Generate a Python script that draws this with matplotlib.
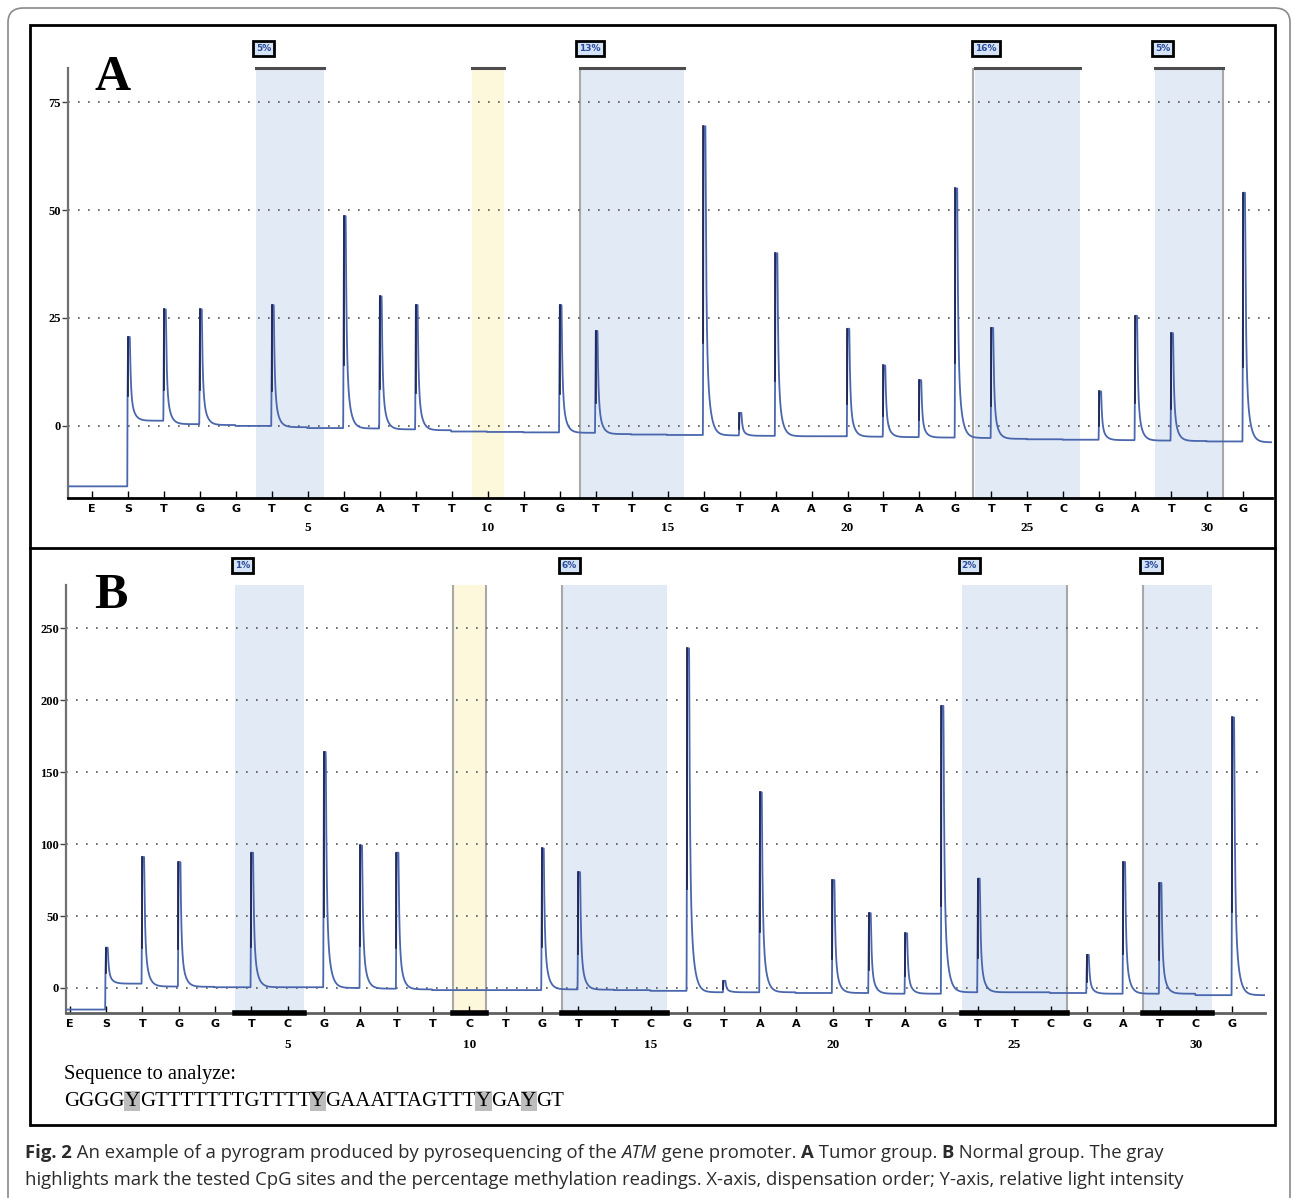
import numpy as np
import matplotlib
matplotlib.use("Agg")
import matplotlib.pyplot as plt
import matplotlib.font_manager as fm
from matplotlib.patches import FancyBboxPatch, Rectangle
from matplotlib.transforms import blended_transform_factory

# dispensation order (E, S, then positions 1..31)
DISP = list("ES" + "TGGTCGATTCTGTTCGTAAGTAGTTCGATCG")
DISP_POS = list(range(-1, 32))

# peak tops per dispensation position 0..31 (nan = no incorporation)
nan = np.nan
A_PEAK = [20.6, 27, 27, nan, 28, nan, 48.6, 30, 28, nan, nan, nan, 28, 22, nan, nan,
          69.4, 3, 40, nan, 22.5, 14, 10.6, 55, 22.7, nan, nan, 8, 25.5, 21.5, nan, 54]
A_BASE = [1.2, 0.4, 0.2, 0.0, -0.3, -0.5, -0.6, -0.8, -1.0, -1.3, -1.4, -1.5, -1.6, -1.9, -2.0, -2.1,
          -2.2, -2.3, -2.4, -2.4, -2.5, -2.6, -2.7, -2.8, -3.0, -3.1, -3.2, -3.3, -3.4, -3.5, -3.6, -3.8]
A_PRE = -14.0
B_PEAK = [28, 91, 87.5, nan, 94, nan, 164, 99, 94, nan, nan, nan, 97, 80.5, nan, nan,
          236, 5, 136, nan, 75, 52, 38, 196, 76, nan, nan, 23, 87.5, 73, nan, 188]
B_BASE = [3.0, 1.0, 0.8, 0.5, 0.5, 0.5, 0.0, -0.5, -1.0, -1.5, -1.5, -1.5, -1.0, -1.2, -1.5, -2.0,
          -3.0, -3.0, -3.0, -3.5, -3.5, -4.0, -4.0, -3.0, -3.0, -3.0, -3.5, -4.0, -4.0, -4.0, -5.0, -5.0]
B_PRE = -15.0

# CpG sites tested (positions) and the bisulfite control (yellow)
CPG_SITES = [[4, 5], [13, 14, 15], [24, 25, 26], [29, 30]]
CTRL_SITE = [10]
A_PCT = ["5%", "13%", "16%", "5%"]
B_PCT = ["1%", "6%", "2%", "3%"]

SEQ = "GGGGYGTTTTTTTGTTTTYGAAATTAGTTTYGAYGT"

W, H = 1292, 1198
BLUE, DARK = "#4a66ad", "#1b1f4a"
SPAN_BLUE, SPAN_YEL = "#e1eaf5", "#fdf7dc"
SERIF = "Liberation Serif"
names = {f.name for f in fm.fontManager.ttflist}
CAPF = "Liberation Sans Narrow" if "Liberation Sans Narrow" in names else "Open Sans"


def fx(px):
    return px / W


def fy(py):
    return 1 - py / H


def kernel(t):
    k = 0.65 * np.exp(-(t - 0.05) / 0.025) + 0.35 * np.exp(-(t - 0.05) / 0.1)
    k = np.where(t < 0.05, 1.0, k)
    k = np.where(t < 0, np.clip((t + 0.02) / 0.02, 0, 1), k)
    return k


def draw_panel(ax, peaks, base, pre, xlim, ylim, yticks, pct, top_lines, num_y, edges):
    x = np.linspace(xlim[0], xlim[1], 9000)
    y = np.full_like(x, pre)
    for i, b in enumerate(base):
        y[x >= i - 0.02] = b
    for i, p in enumerate(peaks):
        if np.isnan(p):
            continue
        y = y + (p - base[i]) * kernel(x - i)
    ax.plot(x, y, color=BLUE, lw=1.3, zorder=3)
    for i, p in enumerate(peaks):
        if np.isnan(p):
            continue
        h = p - base[i]
        ax.plot([i - 0.005, i - 0.005], [base[i] + 0.3 * h, p], color=DARK, lw=1.2, zorder=4)

    trans = blended_transform_factory(ax.transData, ax.transAxes)
    for k, sites in enumerate(CPG_SITES):
        x0, x1 = sites[0] - 0.45, sites[-1] + 0.45
        ax.axvspan(x0, x1, color=SPAN_BLUE, lw=0, zorder=0)
        if top_lines:
            ax.plot([x0, x1], [1, 1], transform=trans, color="#4d4d4d", lw=2.2,
                    clip_on=False, zorder=5)
        ax.text(x0, 1.045, pct[k], transform=trans, ha="left", va="center", fontsize=6.5,
                fontweight="bold", color="#2a4a9a", family="DejaVu Sans",
                bbox=dict(facecolor="#d5e3f6", edgecolor="black", lw=2, pad=2.2))
    for sites in [CTRL_SITE]:
        x0, x1 = sites[0] - 0.45, sites[-1] + 0.45
        ax.axvspan(x0, x1, color=SPAN_YEL, lw=0, zorder=0)
        if top_lines:
            ax.plot([x0, x1], [1, 1], transform=trans, color="#4d4d4d", lw=2.2,
                    clip_on=False, zorder=5)
    for xe in edges:
        ax.axvline(xe, color="#a8a8a8", lw=1.5, zorder=1)

    ax.set_xlim(xlim)
    ax.set_ylim(ylim)
    ax.set_yticks(yticks)
    ax.set_yticklabels([str(v) for v in yticks], family=SERIF, fontweight="bold", fontsize=9)
    for v in yticks:
        ax.axhline(v, color="#555555", lw=1.2, ls=(0, (1, 5)), zorder=1)
    ax.set_xticks(DISP_POS)
    ax.set_xticklabels(DISP, fontsize=8, fontweight="bold", family="DejaVu Sans")
    ax.tick_params(axis="x", direction="in", length=5, width=1, pad=4, colors="black")
    ax.tick_params(axis="y", direction="out", length=4, width=1, pad=1, colors="#444444")
    for lab in ax.get_yticklabels():
        lab.set_color("black")
    for n in range(5, 31, 5):
        ax.text(n, num_y, str(n), transform=trans, ha="center", va="center",
                family=SERIF, fontweight="bold", fontsize=9.5)
    for s in ["top", "right"]:
        ax.spines[s].set_visible(False)
    ax.spines["left"].set_color("#707070")
    ax.spines["left"].set_linewidth(1.6)
    ax.spines["bottom"].set_color("black")
    ax.spines["bottom"].set_linewidth(2)


fig = plt.figure(figsize=(W / 100, H / 100), dpi=100)

# frames
fig.patches.append(FancyBboxPatch((fx(8), fy(1215)), fx(1282), fy(8) - fy(1215),
                                  boxstyle="round,pad=0,rounding_size=0.012",
                                  transform=fig.transFigure, fill=False,
                                  edgecolor="#8a8a8a", lw=1.2))
fig.patches.append(Rectangle((fx(30), fy(1125)), fx(1245), fy(25) - fy(1125),
                             transform=fig.transFigure, fill=False, edgecolor="black", lw=2))
fig.lines.append(plt.Line2D([fx(30), fx(1275)], [fy(548), fy(548)],
                            transform=fig.transFigure, color="black", lw=2))

axA = fig.add_axes([fx(68), fy(498), fx(1272 - 68), fy(68) - fy(498)])
draw_panel(axA, A_PEAK, A_BASE, A_PRE, (-1.67, 31.8), (-16.7, 82.9), [0, 25, 50, 75],
           A_PCT, True, -0.07, [12.55, 23.5, 30.45])

axB = fig.add_axes([fx(66), fy(1013), fx(1265 - 66), fy(585) - fy(1013)])
draw_panel(axB, B_PEAK, B_BASE, B_PRE, (-1.1, 31.9), (-17.4, 280), [0, 50, 100, 150, 200, 250],
           B_PCT, False, -0.075, [9.55, 10.45, 12.55, 26.45, 28.55])
axB.spines["bottom"].set_color("#606060")
transB = blended_transform_factory(axB.transData, axB.transAxes)
for sites in CPG_SITES + [CTRL_SITE]:
    axB.plot([sites[0] - 0.45, sites[-1] + 0.45], [0, 0], transform=transB,
             color="black", lw=4, clip_on=False, zorder=6)

fig.text(fx(113), fy(78), "A", family=SERIF, fontweight="bold", fontsize=36,
         ha="center", va="center")
fig.text(fx(111), fy(596), "B", family=SERIF, fontweight="bold", fontsize=36,
         ha="center", va="center")

renderer = fig.canvas.get_renderer()


def chain(x, y, parts, **common):
    for s, kw in parts:
        t = fig.text(x, y, s, **common, **kw)
        bb = t.get_window_extent(renderer=renderer)
        x = fig.transFigure.inverted().transform((bb.x1, bb.y0))[0]


fig.text(fx(64), fy(1075), "Sequence to analyze:", family=SERIF, fontsize=14.7,
         ha="left", va="center")
seq_parts = []
buf = ""
for ch in SEQ:
    if ch == "Y":
        if buf:
            seq_parts.append((buf, {}))
            buf = ""
        seq_parts.append(("Y", {"bbox": dict(facecolor="#bdbdbd", edgecolor="none", pad=0.5)}))
    else:
        buf += ch
if buf:
    seq_parts.append((buf, {}))
chain(fx(64), fy(1101), seq_parts, family=SERIF, fontsize=15, ha="left", va="center")

cap1 = [("Fig. 2", {"fontweight": "bold"}),
        (" An example of a pyrogram produced by pyrosequencing of the ", {}),
        ("ATM", {"style": "italic"}),
        (" gene promoter. ", {}),
        ("A", {"fontweight": "bold"}),
        (" Tumor group. ", {}),
        ("B", {"fontweight": "bold"}),
        (" Normal group. The gray", {})]
chain(fx(25), fy(1153), cap1, family=CAPF, fontsize=13.3, color="#2b2b2b", ha="left", va="center")
fig.text(fx(25), fy(1180), "highlights mark the tested CpG sites and the percentage methylation "
         "readings. X-axis, dispensation order; Y-axis, relative light intensity",
         family=CAPF, fontsize=13.3, color="#2b2b2b", ha="left", va="center")

fig.savefig("out.png", dpi=100)
